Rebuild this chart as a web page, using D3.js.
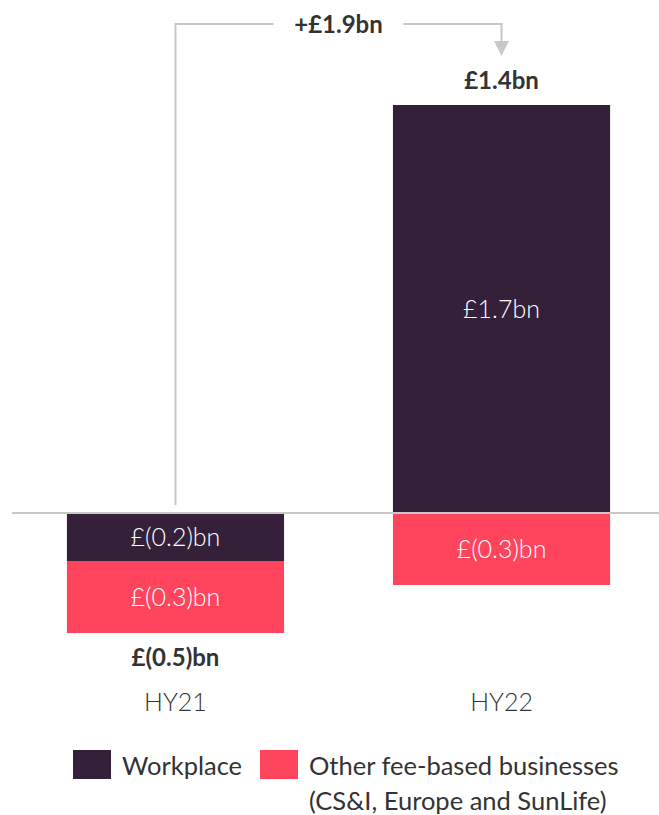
<!DOCTYPE html>
<html>
<head>
<meta charset="utf-8">
<script src="https://cdn.jsdelivr.net/npm/d3@7/dist/d3.min.js"></script>
<style>
  html, body { margin: 0; padding: 0; background: #fff; }
  svg { display: block; font-family: Lato, "Open Sans", sans-serif; }
</style>
</head>
<body>
<svg id="chart" width="659" height="815"></svg>
<script>
// Operating result by business, £bn
const periods = ["HY21", "HY22"];
const seriesNames = ["Workplace", "Other fee-based businesses"];
const workplace = [-0.2, 1.7];
const otherFeeBased = [-0.3, -0.3];
const barLabels = [["£(0.2)bn", "£(0.3)bn"], ["£1.7bn", "£(0.3)bn"]];
const totalLabels = ["£(0.5)bn", "£1.4bn"];
const changeLabel = "+£1.9bn";
const legendLines = [["Workplace"], ["Other fee-based businesses", "(CS&I, Europe and SunLife)"]];

const colors = ["#35203a", "#ff455e"];
const textDark = "#333333";
const ruleGrey = "#c8c8c8";

const svg = d3.select("#chart");

const rows = periods.map((p, i) => ({ period: p, s0: workplace[i], s1: otherFeeBased[i] }));
const stacked = d3.stack()
  .keys(["s0", "s1"])
  .offset(d3.stackOffsetDiverging)(rows);

const totals = periods.map((p, i) => workplace[i] + otherFeeBased[i]);

const x = d3.scaleBand()
  .domain(periods)
  .range([18, 659])
  .paddingInner(0.334)
  .paddingOuter(0.15);

const y = d3.scaleLinear()
  .domain([-0.5, 1.7])
  .range([633, 105]);

// stacked bars
const layer = svg.append("g").selectAll("g")
  .data(stacked)
  .join("g")
  .attr("fill", (d, i) => colors[i]);

layer.selectAll("rect")
  .data((d, si) => d.map((v, pi) => ({ v, si, pi })))
  .join("rect")
  .attr("x", d => x(periods[d.pi]))
  .attr("width", x.bandwidth())
  .attr("y", d => y(Math.max(d.v[0], d.v[1])))
  .attr("height", d => Math.abs(y(d.v[0]) - y(d.v[1])));

// segment value labels
layer.selectAll("text")
  .data((d, si) => d.map((v, pi) => ({ v, si, pi })))
  .join("text")
  .attr("x", d => x(periods[d.pi]) + x.bandwidth() / 2)
  .attr("y", d => (y(d.v[0]) + y(d.v[1])) / 2)
  .attr("dy", "0.35em")
  .attr("text-anchor", "middle")
  .attr("fill", "#ffffff")
  .attr("font-size", 25)
  .attr("font-weight", 300)
  .text(d => barLabels[d.pi][d.si]);

// zero line
svg.append("line")
  .attr("x1", 12).attr("x2", 659)
  .attr("y1", y(0)).attr("y2", y(0))
  .attr("stroke", ruleGrey)
  .attr("stroke-width", 2);

// totals
svg.append("g").selectAll("text")
  .data(totals)
  .join("text")
  .attr("x", (d, i) => x(periods[i]) + x.bandwidth() / 2)
  .attr("y", (d, i) => d >= 0 ? y(Math.max(workplace[i], 0) + Math.max(otherFeeBased[i], 0)) - 16
                              : y(Math.min(workplace[i], 0) + Math.min(otherFeeBased[i], 0)) + 33)
  .attr("text-anchor", "middle")
  .attr("fill", textDark)
  .attr("font-size", 24)
  .attr("font-weight", 700)
  .text((d, i) => totalLabels[i]);

// period axis labels
svg.append("g").selectAll("text")
  .data(periods)
  .join("text")
  .attr("x", d => x(d) + x.bandwidth() / 2)
  .attr("y", 711)
  .attr("text-anchor", "middle")
  .attr("fill", textDark)
  .attr("font-size", 25)
  .attr("font-weight", 300)
  .text(d => d);

// change bracket from HY21 to HY22
const cx0 = x(periods[0]) + x.bandwidth() / 2;
const cx1 = x(periods[1]) + x.bandwidth() / 2;
const topY = 24;
const mid = (cx0 + cx1) / 2;
const gapHalf = 65;
const bracket = svg.append("g")
  .attr("fill", "none")
  .attr("stroke", ruleGrey)
  .attr("stroke-width", 2);

bracket.append("path")
  .attr("d", d3.line()([[cx0, y(0) - 8], [cx0, topY], [mid - gapHalf, topY]]));
bracket.append("path")
  .attr("d", d3.line()([[mid + gapHalf, topY], [cx1, topY], [cx1, 44]]));
svg.append("path")
  .attr("d", d3.line()([[cx1 - 7.5, 41], [cx1 + 7.5, 41], [cx1, 56]]) + "Z")
  .attr("fill", ruleGrey);

svg.append("text")
  .attr("x", mid)
  .attr("y", 33)
  .attr("text-anchor", "middle")
  .attr("fill", textDark)
  .attr("font-size", 24)
  .attr("font-weight", 700)
  .text(changeLabel);

// legend
const legendX = [73, 260];
const legend = svg.append("g").selectAll("g")
  .data(seriesNames)
  .join("g")
  .attr("transform", (d, i) => `translate(${legendX[i]},750)`);

legend.append("rect")
  .attr("width", 38)
  .attr("height", 29)
  .attr("fill", (d, i) => colors[i]);

legend.append("text")
  .attr("x", 49)
  .attr("y", 25)
  .attr("fill", textDark)
  .attr("font-size", 25.5)
  .attr("font-weight", 400)
  .selectAll("tspan")
  .data((d, i) => legendLines[i])
  .join("tspan")
  .attr("x", 49)
  .attr("dy", (d, j) => j === 0 ? 0 : 35)
  .text(d => d);
</script>
</body>
</html>
